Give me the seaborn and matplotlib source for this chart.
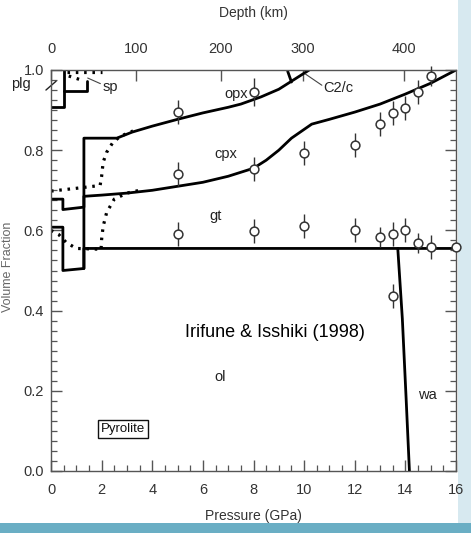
import numpy as np
import pandas as pd
import matplotlib
matplotlib.use("Agg")
import matplotlib.pyplot as plt
import seaborn as sns
from matplotlib.ticker import MultipleLocator, FixedLocator

sns.set_theme(style="ticks")
plt.rcParams['font.family'] = ['Liberation Sans', 'DejaVu Sans']

# ---------------- data ----------------
# solid phase boundaries (pressure GPa, cumulative fraction)
ol_p = [0, 0.47, 0.47, 1.3, 1.3, 16]
ol_f = [0.608, 0.608, 0.50, 0.505, 0.555, 0.555]

cpx_p = [0, 0.47, 0.47, 1.3, 1.3, 2, 3, 4, 5, 6, 7, 8, 8.5, 9, 9.5, 10.3, 11, 12, 13, 14, 15, 16]
cpx_f = [0.678, 0.678, 0.652, 0.658, 0.685, 0.688, 0.693, 0.70, 0.71, 0.72, 0.735, 0.755, 0.775,
         0.80, 0.83, 0.865, 0.877, 0.895, 0.915, 0.94, 0.967, 1.0]

opx_p = [1.3, 1.3, 2.6, 3.2, 4, 5, 6, 7, 7.5, 8.3, 9, 9.5, 10.2]
opx_f = [0.505, 0.83, 0.83, 0.845, 0.86, 0.877, 0.893, 0.907, 0.915, 0.933, 0.952, 0.972, 1.0]

c2c_p = [9.35, 9.5]
c2c_f = [0.997, 0.97]

plg_p = [0, 0.53, 0.53]
plg_f = [0.9075, 0.9075, 1.0]

sp_p = [0.53, 1.42, 1.42]
sp_f = [0.947, 0.947, 0.972]

wa_p = [13.7, 13.88, 14.03, 14.16]
wa_f = [0.555, 0.38, 0.18, 0.0]

# dotted boundaries
d1_p = [0, 0.3, 0.6, 1.0, 1.95]
d1_f = [0.60, 0.59, 0.57, 0.555, 0.553]
d2_p = [1.98, 2.0, 2.06, 2.2, 2.5, 3.0, 3.5]
d2_f = [0.555, 0.578, 0.61, 0.645, 0.678, 0.693, 0.70]
d3_p = [0, 1.0, 1.94, 2.0, 2.06, 2.2, 2.45, 2.75, 3.24]
d3_f = [0.698, 0.705, 0.712, 0.735, 0.77, 0.795, 0.82, 0.835, 0.848]
d4_p = [0.65, 2.0]
d4_f = [0.996, 0.996]
d5_p = [0.7, 1.2]
d5_f = [0.985, 0.975]

# experimental points
pt_p = [5, 8, 13, 13.5, 14, 14.5, 15,
        5, 8, 10, 12,
        5, 8, 10, 12, 13, 13.5, 14, 14.5, 15, 16,
        13.5]
pt_f = [0.895, 0.945, 0.865, 0.893, 0.905, 0.945, 0.985,
        0.74, 0.7525, 0.7925, 0.8125,
        0.59, 0.5975, 0.61, 0.60, 0.5825, 0.59, 0.60, 0.5675, 0.5575, 0.5575,
        0.4375]
pt_err = [0.03, 0.035, 0.03, 0.03, 0.03, 0.03, 0.025,
          0.03, 0.03, 0.03, 0.03,
          0.03, 0.03, 0.03, 0.03, 0.025, 0.03, 0.03, 0.025, 0.03, 0.0,
          0.03]

# top axis (depth) mapping
depth_km = [0, 100, 200, 300, 400, 451]
depth_gpa = [0, 3.36, 6.7, 9.95, 13.95, 16]
depth_ticks = [0, 100, 200, 300, 400]

# labels
phase_names = ["opx", "cpx", "gt", "ol", "wa", "C2/c", "sp", "plg"]
phase_p = [7.3, 6.9, 6.5, 6.7, 14.85, 11.35, 2.35, -1.2]
phase_f = [0.94, 0.79, 0.635, 0.235, 0.19, 0.955, 0.958, 0.965]

# ---------------- figure ----------------
W, H = 471, 533
fig = plt.figure(figsize=(W / 100, H / 100), dpi=100)
fig.patch.set_facecolor("white")
ax = fig.add_axes([51 / W, 1 - 471 / H, (456 - 51) / W, (471 - 70) / H])
ax.set_facecolor("white")

lw = 2.0
solid = dict(color="black", lw=lw, sort=False, estimator=None, legend=False)
for px, fy in [(ol_p, ol_f), (cpx_p, cpx_f), (opx_p, opx_f), (c2c_p, c2c_f),
               (plg_p, plg_f), (sp_p, sp_f), (wa_p, wa_f)]:
    sns.lineplot(x=px, y=fy, ax=ax, **solid)

for px, fy in [(d1_p, d1_f), (d2_p, d2_f), (d3_p, d3_f), (d4_p, d4_f), (d5_p, d5_f)]:
    sns.lineplot(x=px, y=fy, ax=ax, color="black", lw=2.3, sort=False, estimator=None,
                 legend=False, linestyle=(0, (0.8, 1.8)))

ax.errorbar(pt_p, pt_f, yerr=pt_err, fmt="none", ecolor="#333333", elinewidth=1.0,
            capsize=0, clip_on=False, zorder=3)
sns.scatterplot(x=pt_p, y=pt_f, ax=ax, marker="o", s=40, facecolor="white",
                edgecolor="#333333", linewidth=1.1, zorder=4, clip_on=False, legend=False)

ax.set_xlim(0, 16)
ax.set_ylim(0, 1.0)

# texts
for name, px, fy in zip(phase_names, phase_p, phase_f):
    ax.text(px, fy, name, fontsize=10.5, color="#222222", ha="center", va="center",
            clip_on=False)

# leader lines
ax.plot([-0.2, 0.2], [0.95, 0.972], color="#222222", lw=1.0, clip_on=False)
ax.plot([1.95, 1.45], [0.966, 0.98], color="#444444", lw=0.8, clip_on=False)
ax.plot([10.7, 10.05], [0.962, 0.99], color="#444444", lw=0.8, clip_on=False)

ax.text(8.85, 0.345, "Irifune & Isshiki (1998)", fontsize=13, color="black",
        ha="center", va="center")
ax.text(2.85, 0.105, "Pyrolite", fontsize=9.5, color="#111111", ha="center", va="center",
        bbox=dict(boxstyle="square,pad=0.2", fc="white", ec="#111111", lw=1.0))

# axes styling
for sp in ax.spines.values():
    sp.set_color("#555555")
    sp.set_linewidth(1.0)
ax.xaxis.set_major_locator(MultipleLocator(2))
ax.xaxis.set_minor_locator(MultipleLocator(0.5))
ax.yaxis.set_major_locator(MultipleLocator(0.2))
ax.yaxis.set_minor_locator(MultipleLocator(0.025))
ax.tick_params(which="both", direction="in", colors="#555555", labelcolor="#333333",
               bottom=True, left=True, right=True, top=False, labelsize=10.5)
ax.tick_params(which="major", length=8, width=1.0)
ax.tick_params(which="minor", length=4.5, width=0.9)
ax.tick_params(axis="x", pad=9)
ax.tick_params(axis="y", pad=5)
ax.set_xticklabels([f"{int(v)}" for v in ax.get_xticks()])
ax.set_yticklabels([f"{v:.1f}" for v in ax.get_yticks()])
ax.set_xlabel("Pressure (GPa)", fontsize=10, color="#333333", labelpad=8)
ax.set_ylabel("")

sec = ax.secondary_xaxis("top", functions=(lambda p: np.interp(p, depth_gpa, depth_km),
                                           lambda d: np.interp(d, depth_km, depth_gpa)))
sec.xaxis.set_major_locator(FixedLocator(depth_ticks))
sec.tick_params(direction="in", length=8, width=1.0, colors="#555555",
                labelcolor="#333333", labelsize=10.5, pad=10)
sec.spines["top"].set_visible(False)
sec.set_xlabel("Depth (km)", fontsize=10, color="#333333", labelpad=18)

# y label squeezed against the left edge
fig.text(2 / W, 0.5, "Volume Fraction", rotation=90, fontsize=9, color="#666666",
         ha="left", va="center")

# slide frame
fig.patches.append(plt.Rectangle((458 / W, 0), 1 - 458 / W, 1, transform=fig.transFigure,
                                 fc="#d7e9f0", ec="none", zorder=-1))
fig.patches.append(plt.Rectangle((0, 0), 1, 10 / H, transform=fig.transFigure,
                                 fc="#6aaec4", ec="none", zorder=-1))

fig.savefig("out.png", dpi=100, facecolor=fig.get_facecolor())
